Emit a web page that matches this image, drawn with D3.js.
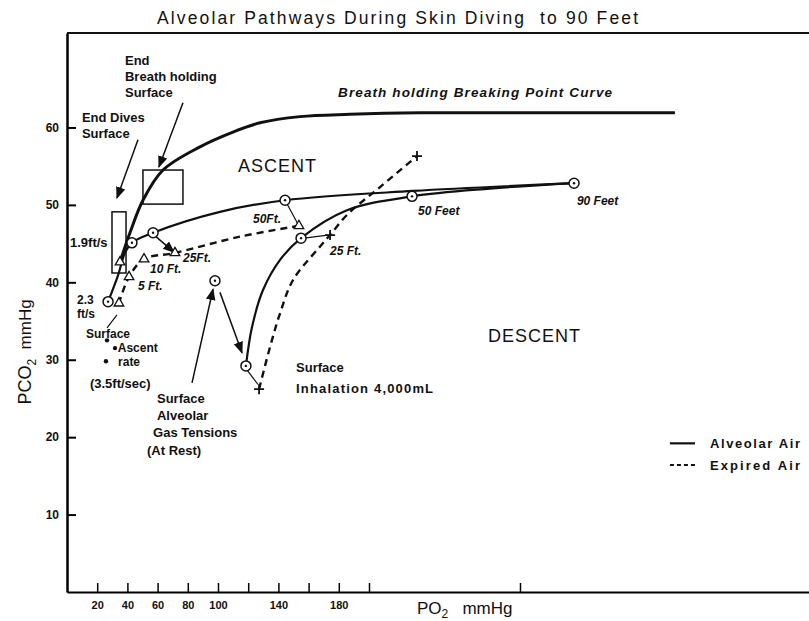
<!DOCTYPE html>
<html>
<head>
<script src="https://d3js.org/d3.v7.min.js"></script>
<style>
    body { margin: 0; background: #ffffff; }
    svg text { font-family: 'Liberation Sans', Arial, sans-serif; fill: #111; }
    .lbl { font-weight: bold; font-size: 13px; }
    .sm { font-weight: bold; font-size: 12px; }
    .ital { font-weight: bold; font-style: italic; font-size: 12px; }
    .ital2 { font-weight: bold; font-style: italic; font-size: 13.5px; }
    .big { font-size: 18px; letter-spacing: 1px; }
    .tick text { font-weight: bold; font-size: 12px; }
</style>
</head>
<body>
<div id="chart"></div>
<script>
// all values are [PO2, PCO2] in mmHg
const breakingPoint = [[35.1,42.6],[37.1,43.8],[41.7,46.4],[50.3,50.6],[63.6,54.5],[88.1,57.5],[109.9,59.4],
    [127.8,60.6],[154.3,61.4],[187.4,61.7],[233.8,61.9],[286.8,61.9],[402.6,61.9]];
const alveolarDescent = [[118.5,29.2],[122.5,34.2],[129.8,39.0],[141.1,42.9],[155.0,45.7],[185.4,49.3],
    [228.5,51.1],[280.1,52.1],[335.8,52.8]];
const alveolarAscent = [[335.8,52.8],[229.1,51.8],[144.4,50.6],[101.3,49.1],[57.0,46.4],[43.0,45.1],
    [38.4,43.8],[33.8,40.9],[27.2,37.5]];
const expiredDescent = [[127.2,26.2],[134.4,31.6],[141.1,36.0],[149.7,40.3],[167.5,44.6],[174.2,46.1],
    [185.4,48.7],[207.3,52.3],[231.8,56.3]];
const expiredAscent = [[153.6,47.3],[114.6,45.9],[71.5,43.8],[51.0,43.0],[41.1,40.7],[34.4,37.3]];

const alveolarPoints = [[335.8,52.8],[228.5,51.1],[144.4,50.6],[57.0,46.4],[43.0,45.1],[27.2,37.5],
    [155.0,45.7],[118.5,29.2],[98.0,40.2]];
const expiredPlus = [[231.8,56.3],[174.2,46.1],[127.2,26.2]];
const expiredTriangles = [[153.6,47.3],[71.5,43.8],[51.0,43.0],[41.1,40.7],[34.4,37.3],[35.1,42.6]];
const surfaceDots = [[31.8,31.5],[25.8,29.8],[26.5,32.5]];

const xTicks = [20,40,60,80,100,120,140,160,180,200,300];
const xTickLabels = [20,40,60,80,100,140,180];
const yTicks = [10,20,30,40,50,60];

// annotations, placed in data units
const notes = [
    {t:"End", x:38.4, y:68.1, c:"lbl"},
    {t:"Breath holding", x:38.4, y:66.0, c:"lbl"},
    {t:"Surface", x:38.4, y:63.9, c:"lbl"},
    {t:"End Dives", x:9.9, y:60.7, c:"lbl"},
    {t:"Surface", x:9.9, y:58.6, c:"lbl"},
    {t:"1.9ft/s", x:2.0, y:44.6, c:"lbl"},
    {t:"2.3", x:6.6, y:37.2, c:"sm"},
    {t:"ft/s", x:6.6, y:35.4, c:"sm"},
    {t:"Surface", x:12.6, y:32.8, c:"sm"},
    {t:"Ascent", x:33.6, y:31.0, c:"sm"},
    {t:"rate", x:33.8, y:29.2, c:"sm"},
    {t:"(3.5ft/sec)", x:15.2, y:26.3, c:"lbl"},
    {t:"Surface", x:59.6, y:24.4, c:"lbl"},
    {t:"Alveolar", x:59.6, y:22.2, c:"lbl"},
    {t:"Gas Tensions", x:57.0, y:20.0, c:"lbl"},
    {t:"(At Rest)", x:53.0, y:17.7, c:"lbl"},
    {t:"ASCENT", x:113.2, y:54.2, c:"big"},
    {t:"DESCENT", x:278.8, y:32.3, c:"big"},
    {t:"Surface", x:151.7, y:28.4, c:"lbl"},
    {t:"Inhalation 4,000mL", x:151.7, y:25.7, c:"lbl", w:137},
    {t:"50Ft.", x:123.2, y:47.7, c:"ital"},
    {t:"25 Ft.", x:174.2, y:43.5, c:"ital"},
    {t:"50 Feet", x:232.5, y:48.7, c:"ital"},
    {t:"90 Feet", x:337.7, y:50.0, c:"ital"},
    {t:"25Ft.", x:76.8, y:42.6, c:"ital"},
    {t:"10 Ft.", x:55.0, y:41.2, c:"ital"},
    {t:"5 Ft.", x:47.0, y:39.0, c:"ital"},
    {t:"Breath holding Breaking Point Curve", x:179.5, y:63.9, c:"ital2", w:274}
];
const arrows = [[76.8,63.2,60.9,54.9],[47.0,58.4,33.1,50.9],[82.8,27.0,96.7,39.1],
    [101.3,38.7,115.9,30.9],[58.3,46.0,70.9,43.9]];
const connectors = [[144.4,50.6,153.0,47.5],[157.0,45.7,172.8,46.1],[119.5,28.6,126.5,26.8],
    [33.1,35.8,26.5,34.1]];
const boxes = [[29.8,49.1,39.1,41.2],[50.3,54.5,76.8,50.1]];
const legendItems = [{t:"Alveolar Air", dash:null, y:19.2}, {t:"Expired Air", dash:"4,3", y:16.4}];

const W = 809, H = 621;
const svg = d3.select("#chart").append("svg").attr("width", W).attr("height", H);

const x = d3.scaleLinear().domain([0, 491.4]).range([67, 809]);
const y = d3.scaleLinear().domain([0, 72.2]).range([592, 33]);

svg.append("defs").append("marker")
    .attr("id", "arr").attr("viewBox", "0 0 10 10").attr("refX", 9).attr("refY", 5)
    .attr("markerWidth", 8).attr("markerHeight", 8).attr("orient", "auto")
    .append("path").attr("d", "M0,1L10,5L0,9z").attr("fill", "#111");

// title
svg.append("text").attr("x", 157).attr("y", 24)
    .attr("textLength", 481).attr("lengthAdjust", "spacing")
    .style("font-size", "17.5px").style("white-space", "pre")
    .text("Alveolar Pathways During Skin Diving  to 90 Feet");

// axes
const xAxis = svg.append("g").attr("transform", "translate(0," + y(0) + ")")
    .call(d3.axisBottom(x).tickValues(xTicks).tickSizeInner(-9).tickSizeOuter(0).tickPadding(9)
        .tickFormat(d => xTickLabels.includes(d) ? d : ""));
xAxis.select(".domain").attr("stroke-width", 2);
xAxis.selectAll(".tick line").attr("stroke-width", 1.5);
xAxis.selectAll(".tick text").style("font-size", "11px");

const yAxis = svg.append("g").attr("transform", "translate(" + x(0) + ",0)")
    .call(d3.axisLeft(y).tickValues(yTicks).tickSizeInner(-9).tickSizeOuter(0).tickPadding(8));
yAxis.select(".domain").attr("stroke-width", 2.5);
yAxis.selectAll(".tick line").attr("stroke-width", 2);

svg.append("line").attr("x1", x(0)).attr("x2", x(491.4)).attr("y1", y(72.2)).attr("y2", y(72.2))
    .attr("stroke", "#111").attr("stroke-width", 2);

// axis titles
const yl = svg.append("text").attr("transform", "translate(31,352) rotate(-90)")
    .attr("text-anchor", "middle").style("font-size", "18px").style("white-space", "pre");
yl.append("tspan").text("PCO");
yl.append("tspan").attr("dy", 5).style("font-size", "12px").text("2");
yl.append("tspan").attr("dy", -5).style("font-size", "17px").text("  mmHg");

const xl = svg.append("text").attr("x", 417).attr("y", 614).style("font-size", "17px").style("white-space", "pre");
xl.append("tspan").text("PO");
xl.append("tspan").attr("dy", 4).style("font-size", "12px").text("2");
xl.append("tspan").attr("dy", -4).text("   mmHg");

// boxes
svg.selectAll(".box").data(boxes).enter().append("rect")
    .attr("x", d => x(d[0])).attr("y", d => y(d[1]))
    .attr("width", d => x(d[2]) - x(d[0])).attr("height", d => y(d[3]) - y(d[1]))
    .attr("fill", "none").attr("stroke", "#111").attr("stroke-width", 1.5);

const line = d3.line().x(d => x(d[0])).y(d => y(d[1])).curve(d3.curveCatmullRom.alpha(0.5));

svg.append("path").datum(breakingPoint).attr("d", line)
    .attr("fill", "none").attr("stroke", "#111").attr("stroke-width", 3);
[alveolarDescent, alveolarAscent].forEach(s => {
    svg.append("path").datum(s).attr("d", line)
        .attr("fill", "none").attr("stroke", "#111").attr("stroke-width", 2.2);
});
[expiredDescent, expiredAscent].forEach(s => {
    svg.append("path").datum(s).attr("d", line)
        .attr("fill", "none").attr("stroke", "#111").attr("stroke-width", 2.4)
        .attr("stroke-dasharray", "7,5");
});

// thin connectors and arrows
svg.selectAll(".conn").data(connectors).enter().append("line")
    .attr("x1", d => x(d[0])).attr("y1", d => y(d[1])).attr("x2", d => x(d[2])).attr("y2", d => y(d[3]))
    .attr("stroke", "#111").attr("stroke-width", 1.2);
svg.selectAll(".arrow").data(arrows).enter().append("line")
    .attr("x1", d => x(d[0])).attr("y1", d => y(d[1])).attr("x2", d => x(d[2])).attr("y2", d => y(d[3]))
    .attr("stroke", "#111").attr("stroke-width", 1.5).attr("marker-end", "url(#arr)");

// markers
const circ = svg.selectAll(".pt").data(alveolarPoints).enter().append("g")
    .attr("transform", d => "translate(" + x(d[0]) + "," + y(d[1]) + ")");
circ.append("circle").attr("r", 5).attr("fill", "#fff").attr("stroke", "#111").attr("stroke-width", 1.5);
circ.append("circle").attr("r", 1.2).attr("fill", "#111");

svg.selectAll(".tri").data(expiredTriangles).enter().append("path")
    .attr("transform", d => "translate(" + x(d[0]) + "," + y(d[1]) + ")")
    .attr("d", d3.symbol(d3.symbolTriangle).size(40))
    .attr("fill", "#fff").attr("stroke", "#111").attr("stroke-width", 1.3);

svg.selectAll(".plus").data(expiredPlus).enter().append("path")
    .attr("transform", d => "translate(" + x(d[0]) + "," + y(d[1]) + ")")
    .attr("d", "M-5,0H5M0,-5V5").attr("stroke", "#111").attr("stroke-width", 1.8);

svg.selectAll(".dot").data(surfaceDots).enter().append("circle")
    .attr("cx", d => x(d[0])).attr("cy", d => y(d[1])).attr("r", 2.2).attr("fill", "#111");

// labels
svg.selectAll(".note").data(notes).enter().append("text")
    .attr("class", d => d.c)
    .attr("x", d => x(d.x)).attr("y", d => y(d.y))
    .attr("textLength", d => d.w || null)
    .text(d => d.t);

// legend
const lg = svg.selectAll(".lg").data(legendItems).enter().append("g");
lg.append("line").attr("x1", x(399.3)).attr("x2", x(415.9))
    .attr("y1", d => y(d.y)).attr("y2", d => y(d.y))
    .attr("stroke", "#111").attr("stroke-width", 2.2).attr("stroke-dasharray", d => d.dash);
lg.append("text").attr("class", "lbl").attr("x", x(425.8)).attr("y", d => y(d.y) + 5)
    .attr("textLength", 90).text(d => d.t);
</script>
</body>
</html>
